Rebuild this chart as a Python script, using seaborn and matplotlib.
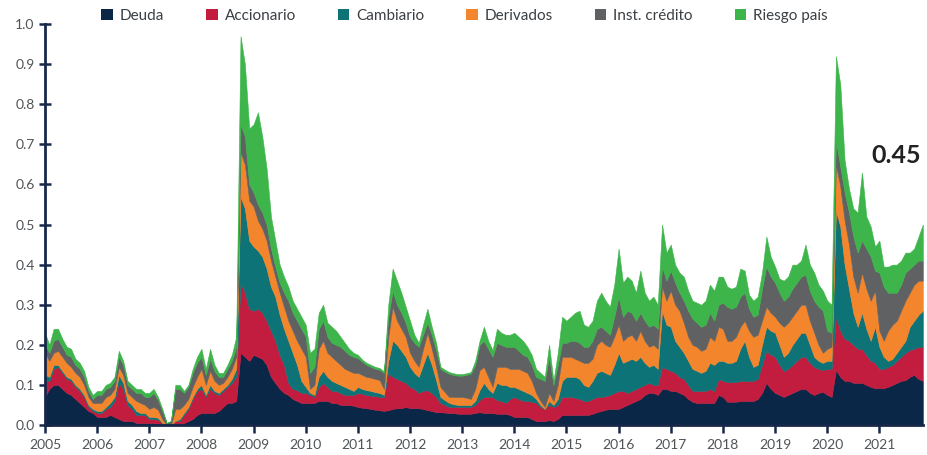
#!/usr/bin/env python3
"""Stacked area of the systemic stress index by component (2005-2021)."""

import numpy as np
import pandas as pd
import seaborn as sns
import matplotlib.pyplot as plt
from matplotlib.patches import Patch

# ---------------------------------------------------------------------------
# DATA: monthly values, Jan 2005 .. Nov 2021 (one row per year)

years = list(range(2005, 2022))
series_names = ["Deuda", "Accionario", "Cambiario", "Derivados", "Inst. crédito", "Riesgo país"]
colors = ["#0b2747", "#c21d3f", "#0e7377", "#f3862c", "#5f6163", "#3db54a"]

deuda = [
    0.07, 0.09, 0.10, 0.10, 0.09, 0.08, 0.075, 0.065, 0.055, 0.045, 0.035, 0.03,
    0.02, 0.02, 0.02, 0.025, 0.02, 0.015, 0.01, 0.01, 0.01, 0.005, 0.005, 0.005,
    0.005, 0.005, 0.003, 0, 0, 0, 0, 0, 0.005, 0.01, 0.015, 0.025,
    0.03, 0.03, 0.03, 0.03, 0.035, 0.045, 0.055, 0.055, 0.06, 0.18, 0.17, 0.16,
    0.175, 0.17, 0.165, 0.15, 0.12, 0.105, 0.09, 0.08, 0.075, 0.065, 0.06, 0.055,
    0.055, 0.055, 0.055, 0.06, 0.06, 0.06, 0.055, 0.055, 0.05, 0.05, 0.05, 0.048,
    0.045, 0.043, 0.042, 0.04, 0.038, 0.037, 0.035, 0.037, 0.04, 0.042, 0.042, 0.045,
    0.042, 0.042, 0.042, 0.04, 0.037, 0.035, 0.032, 0.032, 0.031, 0.03, 0.03, 0.028,
    0.028, 0.028, 0.028, 0.03, 0.032, 0.03, 0.03, 0.03, 0.028, 0.028, 0.028, 0.025,
    0.02, 0.02, 0.02, 0.02, 0.015, 0.01, 0.01, 0.01, 0.012, 0.01, 0.015, 0.025,
    0.025, 0.025, 0.025, 0.025, 0.025, 0.025, 0.028, 0.032, 0.035, 0.038, 0.04, 0.04,
    0.04, 0.045, 0.05, 0.055, 0.06, 0.065, 0.075, 0.08, 0.08, 0.075, 0.09, 0.09,
    0.085, 0.085, 0.08, 0.075, 0.065, 0.058, 0.055, 0.055, 0.055, 0.055, 0.055, 0.075,
    0.07, 0.058, 0.058, 0.058, 0.06, 0.06, 0.06, 0.06, 0.065, 0.08, 0.105, 0.09,
    0.08, 0.075, 0.07, 0.075, 0.08, 0.085, 0.09, 0.09, 0.08, 0.075, 0.08, 0.083,
    0.075, 0.07, 0.137, 0.12, 0.11, 0.11, 0.105, 0.105, 0.105, 0.10, 0.095, 0.092,
    0.092, 0.092, 0.095, 0.10, 0.105, 0.11, 0.112, 0.12, 0.125, 0.115, 0.11,
]

accionario = [
    0.04, 0.02, 0.04, 0.045, 0.04, 0.035, 0.035, 0.03, 0.03, 0.025, 0.01, 0.005,
    0.01, 0.01, 0.02, 0.02, 0.04, 0.09, 0.08, 0.04, 0.03, 0.02, 0.02, 0.02,
    0.01, 0.01, 0.01, 0.005, 0, 0, 0.01, 0.01, 0.02, 0.03, 0.05, 0.06,
    0.06, 0.04, 0.06, 0.05, 0.04, 0.04, 0.04, 0.05, 0.06, 0.175, 0.16, 0.13,
    0.11, 0.12, 0.115, 0.11, 0.115, 0.105, 0.085, 0.07, 0.03, 0.025, 0.027, 0.025,
    0.025, 0.02, 0.015, 0.035, 0.045, 0.035, 0.03, 0.03, 0.03, 0.025, 0.025, 0.027,
    0.035, 0.035, 0.033, 0.033, 0.034, 0.033, 0.035, 0.093, 0.08, 0.073, 0.068, 0.06,
    0.053, 0.048, 0.038, 0.045, 0.05, 0.045, 0.038, 0.023, 0.019, 0.015, 0.015, 0.017,
    0.017, 0.017, 0.017, 0.02, 0.03, 0.04, 0.04, 0.04, 0.034, 0.032, 0.027, 0.04,
    0.05, 0.045, 0.04, 0.04, 0.043, 0.045, 0.035, 0.03, 0.038, 0.035, 0.035, 0.045,
    0.045, 0.045, 0.043, 0.04, 0.035, 0.035, 0.037, 0.038, 0.035, 0.034, 0.035, 0.04,
    0.045, 0.04, 0.03, 0.03, 0.03, 0.03, 0.025, 0.025, 0.02, 0.025, 0.055, 0.05,
    0.05, 0.045, 0.04, 0.04, 0.035, 0.027, 0.03, 0.03, 0.03, 0.035, 0.03, 0.04,
    0.04, 0.049, 0.049, 0.049, 0.05, 0.05, 0.05, 0.05, 0.05, 0.07, 0.08, 0.085,
    0.09, 0.075, 0.065, 0.065, 0.07, 0.075, 0.08, 0.08, 0.075, 0.07, 0.06, 0.054,
    0.065, 0.07, 0.133, 0.115, 0.105, 0.10, 0.095, 0.085, 0.085, 0.075, 0.065, 0.063,
    0.048, 0.048, 0.05, 0.05, 0.055, 0.06, 0.068, 0.067, 0.065, 0.08, 0.085,
]

cambiario = [
    0.015, 0.01, 0.01, 0.005, 0.005, 0.005, 0.005, 0.005, 0.005, 0.005, 0.005, 0.005,
    0.005, 0.005, 0.005, 0.01, 0.01, 0.02, 0.015, 0.01, 0.01, 0.01, 0.005, 0.005,
    0.005, 0.005, 0.005, 0, 0, 0, 0, 0.005, 0.005, 0.005, 0.005, 0.005,
    0.01, 0.005, 0.01, 0.005, 0.005, 0.005, 0.005, 0.01, 0.02, 0.215, 0.21, 0.17,
    0.16, 0.145, 0.14, 0.13, 0.11, 0.11, 0.10, 0.09, 0.105, 0.09, 0.063, 0.03,
    0.015, 0.005, 0.005, 0.025, 0.03, 0.025, 0.025, 0.02, 0.02, 0.02, 0.015, 0.01,
    0.015, 0.012, 0.012, 0.012, 0.01, 0.01, 0.005, 0.03, 0.09, 0.085, 0.075, 0.065,
    0.05, 0.04, 0.04, 0.065, 0.093, 0.07, 0.042, 0.015, 0.012, 0.01, 0.007, 0.005,
    0.005, 0.005, 0.005, 0.01, 0.025, 0.035, 0.02, 0.01, 0.043, 0.04, 0.045, 0.03,
    0.025, 0.025, 0.025, 0.02, 0.017, 0.01, 0.005, 0, 0.01, 0.005, 0.015, 0.04,
    0.05, 0.05, 0.052, 0.05, 0.04, 0.035, 0.045, 0.06, 0.065, 0.058, 0.05, 0.07,
    0.095, 0.07, 0.08, 0.08, 0.07, 0.075, 0.055, 0.04, 0.05, 0.04, 0.14, 0.11,
    0.11, 0.08, 0.075, 0.065, 0.06, 0.055, 0.05, 0.045, 0.05, 0.065, 0.065, 0.045,
    0.05, 0.048, 0.048, 0.053, 0.08, 0.10, 0.06, 0.035, 0.035, 0.05, 0.06, 0.06,
    0.06, 0.05, 0.035, 0.04, 0.05, 0.055, 0.06, 0.06, 0.045, 0.025, 0.02, 0.018,
    0.02, 0.02, 0.265, 0.26, 0.185, 0.13, 0.08, 0.055, 0.09, 0.065, 0.05, 0.09,
    0.055, 0.03, 0.015, 0.015, 0.02, 0.025, 0.03, 0.058, 0.07, 0.08, 0.09,
]

derivados = [
    0.055, 0.04, 0.03, 0.035, 0.035, 0.035, 0.03, 0.03, 0.03, 0.025, 0.02, 0.015,
    0.02, 0.02, 0.025, 0.02, 0.02, 0.02, 0.02, 0.02, 0.02, 0.025, 0.025, 0.02,
    0.02, 0.025, 0.02, 0.01, 0, 0, 0.03, 0.025, 0.02, 0.02, 0.025, 0.03,
    0.04, 0.025, 0.035, 0.025, 0.02, 0.015, 0.02, 0.025, 0.03, 0.11, 0.11, 0.10,
    0.10, 0.075, 0.07, 0.07, 0.065, 0.05, 0.055, 0.055, 0.05, 0.055, 0.06, 0.08,
    0.075, 0.01, 0.025, 0.07, 0.075, 0.06, 0.06, 0.055, 0.05, 0.045, 0.045, 0.045,
    0.035, 0.035, 0.033, 0.033, 0.033, 0.032, 0.015, 0.06, 0.085, 0.06, 0.055, 0.05,
    0.035, 0.03, 0.025, 0.04, 0.05, 0.04, 0.033, 0.025, 0.02, 0.015, 0.018, 0.02,
    0.02, 0.018, 0.015, 0.03, 0.05, 0.04, 0.03, 0.015, 0.04, 0.045, 0.045, 0.045,
    0.045, 0.05, 0.05, 0.05, 0.035, 0.015, 0.01, 0.005, 0.02, 0.01, 0.035, 0.06,
    0.05, 0.05, 0.045, 0.045, 0.055, 0.06, 0.055, 0.07, 0.075, 0.07, 0.07, 0.07,
    0.07, 0.055, 0.06, 0.06, 0.05, 0.065, 0.055, 0.05, 0.05, 0.05, 0.06, 0.06,
    0.09, 0.09, 0.09, 0.075, 0.06, 0.06, 0.06, 0.055, 0.055, 0.065, 0.06, 0.085,
    0.08, 0.055, 0.055, 0.06, 0.055, 0.05, 0.065, 0.075, 0.075, 0.06, 0.05, 0.045,
    0.04, 0.055, 0.075, 0.075, 0.07, 0.07, 0.07, 0.07, 0.06, 0.06, 0.04, 0.025,
    0.03, 0.035, 0.115, 0.10, 0.11, 0.11, 0.09, 0.085, 0.10, 0.10, 0.10, 0.09,
    0.04, 0.04, 0.075, 0.085, 0.08, 0.09, 0.10, 0.085, 0.09, 0.085, 0.075,
]

inst_credito = [
    0.02, 0.02, 0.03, 0.03, 0.025, 0.02, 0.025, 0.02, 0.02, 0.02, 0.015, 0.01,
    0.02, 0.02, 0.02, 0.02, 0.02, 0.025, 0.025, 0.02, 0.02, 0.02, 0.025, 0.02,
    0.03, 0.035, 0.025, 0.02, 0.005, 0.01, 0.05, 0.05, 0.03, 0.03, 0.035, 0.035,
    0.03, 0.025, 0.03, 0.025, 0.02, 0.015, 0.02, 0.02, 0.025, 0.07, 0.07, 0.04,
    0.035, 0.04, 0.04, 0.04, 0.03, 0.025, 0.025, 0.035, 0.05, 0.045, 0.05, 0.05,
    0.05, 0.04, 0.045, 0.05, 0.05, 0.04, 0.035, 0.04, 0.045, 0.045, 0.04, 0.04,
    0.037, 0.033, 0.03, 0.027, 0.025, 0.026, 0.04, 0.05, 0.04, 0.04, 0.04, 0.035,
    0.04, 0.045, 0.05, 0.035, 0.025, 0.035, 0.042, 0.045, 0.051, 0.058, 0.055, 0.053,
    0.053, 0.057, 0.063, 0.06, 0.063, 0.065, 0.07, 0.075, 0.06, 0.055, 0.05, 0.055,
    0.055, 0.045, 0.04, 0.04, 0.04, 0.04, 0.055, 0.065, 0.09, 0.04, 0.05, 0.035,
    0.035, 0.04, 0.045, 0.045, 0.04, 0.04, 0.045, 0.04, 0.035, 0.035, 0.03, 0.05,
    0.07, 0.06, 0.065, 0.055, 0.05, 0.045, 0.05, 0.05, 0.05, 0.05, 0.05, 0.05,
    0.05, 0.055, 0.045, 0.055, 0.065, 0.065, 0.06, 0.06, 0.06, 0.06, 0.05, 0.055,
    0.065, 0.085, 0.08, 0.075, 0.075, 0.07, 0.055, 0.05, 0.05, 0.08, 0.10, 0.09,
    0.085, 0.075, 0.065, 0.065, 0.07, 0.07, 0.07, 0.075, 0.075, 0.08, 0.095, 0.105,
    0.045, 0.035, 0.06, 0.05, 0.07, 0.08, 0.10, 0.10, 0.08, 0.10, 0.11, 0.05,
    0.145, 0.135, 0.095, 0.08, 0.07, 0.065, 0.07, 0.06, 0.05, 0.05, 0.05,
]

riesgo_pais = [
    0.03, 0.02, 0.03, 0.025, 0.02, 0.02, 0.02, 0.015, 0.015, 0.015, 0.01, 0.01,
    0.01, 0.01, 0.01, 0.01, 0.01, 0.015, 0.01, 0.01, 0.01, 0.01, 0.01, 0.01,
    0.01, 0.01, 0.007, 0.005, 0, 0, 0.01, 0.01, 0.005, 0.005, 0.01, 0.015,
    0.02, 0.015, 0.025, 0.015, 0.01, 0.01, 0.01, 0.015, 0.025, 0.22, 0.18, 0.14,
    0.17, 0.23, 0.19, 0.14, 0.08, 0.065, 0.045, 0.04, 0.035, 0.03, 0.03, 0.03,
    0.03, 0.05, 0.045, 0.04, 0.04, 0.035, 0.04, 0.035, 0.025, 0.02, 0.015, 0.01,
    0.008, 0.005, 0.005, 0.005, 0.005, 0.004, 0.004, 0.03, 0.055, 0.06, 0.05, 0.04,
    0.04, 0.02, 0.01, 0.025, 0.035, 0.02, 0.018, 0.005, 0.005, 0.004, 0.004, 0.004,
    0.004, 0.004, 0.004, 0.01, 0.01, 0.035, 0.02, 0.017, 0.035, 0.03, 0.03, 0.03,
    0.035, 0.035, 0.035, 0.025, 0.025, 0.02, 0.015, 0.01, 0.03, 0.01, 0.03, 0.065,
    0.055, 0.06, 0.07, 0.08, 0.055, 0.05, 0.05, 0.07, 0.085, 0.075, 0.07, 0.08,
    0.12, 0.085, 0.085, 0.08, 0.07, 0.105, 0.07, 0.065, 0.07, 0.06, 0.105, 0.07,
    0.065, 0.045, 0.05, 0.06, 0.05, 0.045, 0.05, 0.055, 0.06, 0.07, 0.075, 0.07,
    0.065, 0.05, 0.05, 0.05, 0.07, 0.055, 0.035, 0.04, 0.045, 0.04, 0.075, 0.05,
    0.04, 0.035, 0.05, 0.05, 0.06, 0.045, 0.04, 0.075, 0.065, 0.07, 0.055, 0.05,
    0.075, 0.07, 0.21, 0.205, 0.08, 0.06, 0.07, 0.10, 0.17, 0.08, 0.075, 0.06,
    0.08, 0.05, 0.065, 0.07, 0.07, 0.06, 0.05, 0.04, 0.04, 0.06, 0.09,
]

last_label = "0.45"

# ---------------------------------------------------------------------------
# LONG TABLE FOR SEABORN

values = [deuda, accionario, cambiario, derivados, inst_credito, riesgo_pais]
n = len(deuda)
df = pd.DataFrame({
    "mes": np.tile(np.arange(n), len(series_names)),
    "indicador": np.repeat(series_names, n),
    "valor": np.concatenate(values),
})

# ---------------------------------------------------------------------------
# STYLE

sns.set_theme(style="white")
plt.rcParams["font.family"] = ["Lato", "DejaVu Sans"]
navy = "#16284a"
grey_txt = "#505457"

fig = plt.figure(figsize=(9.27, 4.55), dpi=100)
ax = fig.add_axes([0.0485, 0.066, 0.947, 0.881])

# stacked areas: seaborn stacks the last hue level at the bottom
sns.histplot(data=df, x="mes", weights="valor", hue="indicador",
             hue_order=series_names[::-1],
             palette=dict(zip(series_names, colors)),
             multiple="stack", element="poly", discrete=True,
             alpha=1, linewidth=0, legend=False, ax=ax)

for coll in ax.collections:  # hide seams between layers
    coll.set_edgecolor(coll.get_facecolor())
    coll.set_linewidth(0.4)

ax.set_xlim(0, n - 1)
ax.set_ylim(0, 1.0)
ax.set_xlabel("")
ax.set_ylabel("")

ax.set_xticks(np.arange(0, n, 12))
ax.set_xticklabels([str(y) for y in years])
yt = np.round(np.arange(0, 1.01, 0.1), 1)
ax.set_yticks(yt)
ax.set_yticklabels([f"{v:.1f}" for v in yt])

ax.tick_params(axis="y", direction="inout", length=9, width=1.8, color=navy,
               labelsize=10, labelcolor=grey_txt, pad=3, left=True)
ax.tick_params(axis="x", direction="out", length=6, width=1.8, color=navy,
               labelsize=10, labelcolor=grey_txt, pad=4, bottom=True)

sns.despine(ax=ax)
for side in ["left", "bottom"]:
    ax.spines[side].set_color(navy)
    ax.spines[side].set_linewidth(2)

# legend with square markers
handles = [Patch(facecolor=c, edgecolor="none", label=s) for s, c in zip(series_names, colors)]
ax.legend(handles=handles, loc="center", bbox_to_anchor=(0.478, 1.02), ncol=6,
          frameon=False, fontsize=11, handlelength=0.75, handleheight=0.75,
          handletextpad=0.45, columnspacing=2.75, labelcolor="#3a3f44")

ax.text(0.970, 0.671, last_label, transform=ax.transAxes, ha="center", va="center",
        fontsize=18, fontweight="bold", color="#222222")

fig.savefig("out.png", dpi=100)
